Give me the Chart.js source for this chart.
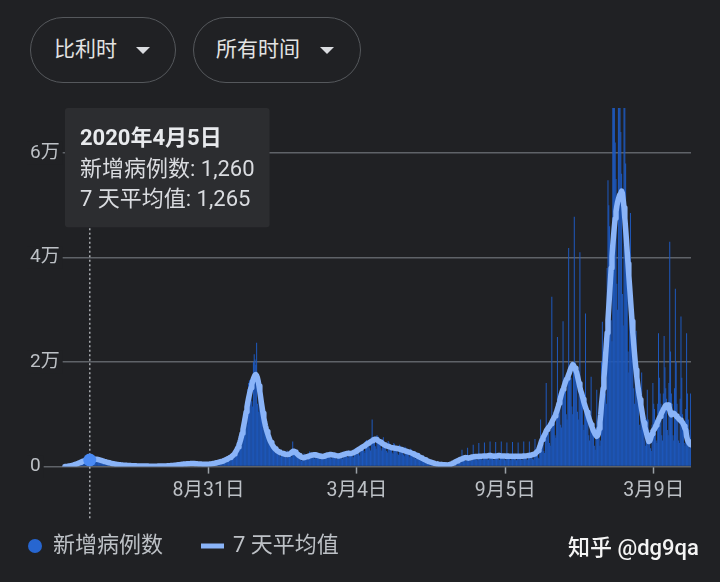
<!DOCTYPE html>
<html>
<head>
<meta charset="utf-8">
<script src="https://cdn.jsdelivr.net/npm/chart.js@4.4.1/dist/chart.umd.min.js"></script>
<style>
  html, body { margin: 0; padding: 0; background: #202124; }
  body { width: 720px; height: 582px; position: relative; overflow: hidden;
         font-family: Roboto, "Noto Sans CJK SC", sans-serif; }
  #wrap { position: absolute; left: 0; top: 0; width: 720px; height: 582px; }
  .chip { position: absolute; top: 17px; height: 66px; box-sizing: border-box;
          border: 1.5px solid #55585c; border-radius: 33px; color: #e3e3e3;
          font-size: 21px; line-height: 63px; white-space: nowrap; }
  .chip .arrow { position: absolute; top: 29px; width: 0; height: 0;
          border-left: 7px solid transparent; border-right: 7px solid transparent;
          border-top: 7px solid #dadce0; }
  #mark { position: absolute; left: 568px; top: 533px; font-size: 22px; font-weight: 500;
          line-height: 30px; color: #f4f4f4; white-space: nowrap; }
</style>
</head>
<body>
<div class="chip" style="left:30px;width:146px;padding-left:23px;">比利时<span class="arrow" style="left:105px;"></span></div>
<div class="chip" style="left:193px;width:168px;padding-left:22px;">所有时间<span class="arrow" style="left:126px;"></span></div>
<div id="wrap"><canvas id="c" width="720" height="582"></canvas></div>
<div id="mark">知乎 @dg9qa</div>
<script>
// Daily series start on this date, one value per day.
const startDate = '2020-03-05';

// 新增病例数 — one row per week (Thu..Wed)
const cases = [
  25, 50, 35, 60, 70, 150, 200,
  260, 330, 320, 340, 450, 480, 560,
  590, 660, 700, 720, 800, 920, 1000,
  1100, 1150, 1050, 1020, 1200, 1350, 1300,
  1320, 1270, 1200, 1260, 1280, 1340, 1380,
  1500, 1560, 1450, 1300, 1380, 1480, 1350,
  1300, 1250, 1100, 1000, 1150, 1100, 950,
  950, 900, 800, 750, 850, 800, 700,
  680, 620, 500, 450, 600, 550, 480,
  460, 430, 360, 320, 420, 380, 330,
  320, 300, 250, 230, 300, 270, 240,
  240, 220, 190, 170, 220, 200, 180,
  170, 160, 130, 120, 160, 150, 130,
  130, 125, 100, 90, 120, 110, 100,
  100, 100, 80, 75, 105, 100, 95,
  90, 90, 75, 70, 95, 90, 85,
  88, 90, 75, 70, 100, 100, 105,
  110, 115, 90, 85, 135, 140, 140,
  150, 155, 120, 110, 190, 200, 210,
  220, 240, 190, 170, 290, 320, 330,
  350, 380, 300, 270, 450, 480, 490,
  500, 520, 420, 380, 560, 600, 590,
  600, 610, 470, 430, 620, 650, 620,
  600, 590, 460, 410, 580, 590, 560,
  530, 520, 400, 360, 500, 520, 490,
  480, 490, 380, 350, 520, 560, 550,
  560, 590, 460, 420, 680, 760, 780,
  800, 840, 650, 600, 950, 1080, 1100,
  1150, 1200, 900, 850, 1450, 1600, 1650,
  1700, 1750, 1350, 1250, 2150, 2400, 2450,
  2600, 2700, 2100, 2000, 3600, 4100, 4300,
  5000, 5300, 4300, 4000, 7600, 9200, 9800,
  10800, 11200, 8600, 8000, 14800, 16000, 16500,
  16500, 16800, 12500, 11500, 20000, 21500, 20500,
  19500, 23700, 12000, 10500, 17000, 15500, 13500,
  12500, 11500, 8000, 7200, 10000, 9000, 7800,
  7000, 6500, 4600, 4200, 5600, 5200, 4600,
  4200, 4000, 2900, 2700, 3900, 3600, 3300,
  3000, 2900, 2100, 1900, 3200, 2900, 2700,
  2500, 2500, 1800, 1700, 3100, 2800, 2600,
  2500, 2700, 2000, 1800, 4800, 3300, 3000,
  2900, 2700, 2000, 1700, 2700, 2500, 2200,
  1800, 1100, 1300, 1400, 2500, 2300, 2200,
  1700, 1300, 1700, 1600, 2900, 2700, 2500,
  2400, 2300, 1700, 1500, 2800, 2600, 2400,
  2200, 2100, 1500, 1400, 2600, 2400, 2200,
  2100, 2100, 1600, 1500, 2700, 2600, 2400,
  2400, 2300, 1700, 1500, 2800, 2700, 2400,
  2300, 2200, 1600, 1400, 2600, 2500, 2300,
  2300, 2300, 1700, 1500, 2900, 2800, 2600,
  2600, 2600, 1900, 1700, 3100, 3000, 2700,
  2700, 2700, 2000, 1800, 3400, 3400, 3100,
  3200, 3200, 2400, 2100, 4000, 4200, 3800,
  4000, 4000, 3000, 2600, 4900, 5100, 4600,
  4800, 4700, 3500, 3100, 5600, 9000, 5200,
  5400, 5300, 3900, 3400, 6000, 5900, 5200,
  5000, 4800, 3500, 3100, 4300, 5600, 4600,
  4300, 4200, 3000, 2700, 4900, 4600, 4000,
  3900, 3800, 2700, 2400, 4500, 4300, 3700,
  3600, 3500, 2500, 2200, 4200, 4000, 3400,
  3300, 3200, 2300, 2000, 3800, 3600, 3100,
  3000, 2900, 2100, 1800, 3400, 3200, 2700,
  2200, 2400, 1700, 1500, 2800, 2600, 2100,
  2000, 1900, 1400, 1200, 1900, 2000, 1600,
  1450, 1350, 1000, 850, 1500, 1300, 1000,
  950, 900, 650, 550, 1000, 850, 650,
  600, 570, 400, 350, 650, 550, 430,
  400, 380, 280, 240, 480, 420, 350,
  340, 350, 260, 230, 520, 580, 600,
  650, 750, 550, 480, 1100, 1250, 1250,
  1250, 1300, 950, 800, 1600, 3200, 1700,
  1500, 1450, 1100, 1000, 1700, 3600, 1700,
  1650, 1600, 1250, 1100, 1800, 4200, 1800,
  1750, 1700, 1350, 1200, 1900, 4500, 1900,
  1800, 1750, 1400, 1250, 1950, 4600, 1950,
  1850, 1750, 1400, 1300, 2000, 4800, 1950,
  1800, 1700, 1350, 1250, 1950, 4700, 1900,
  1800, 1750, 1400, 1250, 2000, 4800, 1950,
  1750, 1700, 1400, 1200, 1950, 4600, 1900,
  1800, 1700, 1350, 1200, 1900, 4700, 1900,
  1750, 1700, 1300, 1200, 1850, 4600, 1850,
  1750, 1700, 1350, 1250, 1900, 4800, 1900,
  1800, 1750, 1400, 1250, 1950, 4800, 2000,
  1900, 1850, 1500, 1350, 2100, 5300, 2200,
  2300, 2500, 1700, 1500, 3200, 9000, 4200,
  4500, 4300, 3000, 2600, 6000, 16000, 7500,
  7000, 6800, 4500, 4000, 8500, 32500, 9500,
  9000, 8800, 6000, 5500, 10500, 24800, 12000,
  12000, 11500, 8000, 7500, 14000, 27800, 15000,
  15000, 14500, 10000, 9000, 17500, 41800, 19000,
  18000, 17000, 11500, 10000, 20000, 47800, 20000,
  17000, 16000, 10500, 9000, 17000, 41000, 16000,
  13500, 12500, 8000, 7000, 13000, 29300, 12000,
  10000, 9500, 6000, 5000, 9000, 17200, 8500,
  7000, 6500, 4000, 3200, 6500, 14700, 7000,
  6000, 5500, 4000, 5000, 20000, 27700, 18000,
  22000, 24000, 14000, 12000, 38000, 54800, 50000,
  46000, 40000, 28000, 24000, 71000, 82000, 72000,
  62000, 55000, 35000, 30000, 76000, 79000, 70000,
  64000, 56000, 33000, 27000, 72000, 74000, 58000,
  48000, 40000, 22000, 18000, 38000, 48500, 35000,
  30000, 26000, 15000, 12000, 22000, 26000, 20000,
  16000, 13000, 8000, 7000, 14000, 18000, 13000,
  10000, 8500, 5000, 4000, 9000, 14700, 9000,
  7000, 6000, 3500, 3000, 8000, 16000, 12000,
  11000, 9000, 5000, 4500, 12000, 25500, 17000,
  14000, 12000, 6000, 5000, 14000, 25000, 19000,
  15000, 13000, 7000, 6000, 16000, 43000, 22000,
  14000, 12000, 6000, 5000, 15000, 34000, 20000,
  12000, 10000, 5000, 4500, 13000, 28700, 17000,
  10000, 9000, 4500, 4000, 11000, 25500, 14000,
  9000, 7000, 3500, 14000
];

// 7 天平均值 — same rows
const avg7 = [
  20, 30, 45, 60, 80, 100, 125,
  150, 190, 230, 270, 310, 360, 420,
  480, 540, 600, 660, 720, 790, 860,
  930, 1000, 1060, 1110, 1150, 1180, 1210,
  1230, 1245, 1255, 1265, 1280, 1300, 1330,
  1370, 1400, 1420, 1430, 1420, 1400, 1370,
  1330, 1280, 1230, 1180, 1130, 1080, 1030,
  980, 940, 900, 860, 820, 780, 740,
  700, 660, 620, 580, 550, 520, 490,
  460, 440, 420, 400, 380, 360, 340,
  320, 300, 290, 280, 270, 260, 250,
  240, 230, 220, 210, 200, 190, 180,
  170, 160, 155, 150, 145, 140, 135,
  130, 125, 120, 115, 110, 105, 100,
  100, 98, 96, 95, 94, 93, 92,
  90, 90, 88, 87, 86, 85, 85,
  85, 86, 88, 90, 92, 95, 98,
  100, 105, 110, 115, 120, 125, 130,
  135, 140, 150, 160, 170, 180, 190,
  200, 215, 230, 245, 260, 280, 300,
  320, 340, 360, 380, 400, 420, 440,
  460, 480, 500, 510, 520, 530, 540,
  550, 560, 570, 575, 580, 580, 575,
  570, 560, 550, 540, 530, 520, 510,
  500, 490, 480, 470, 460, 455, 450,
  450, 450, 455, 460, 470, 480, 495,
  510, 530, 560, 590, 620, 650, 690,
  730, 770, 810, 850, 890, 930, 970,
  1020, 1080, 1140, 1200, 1270, 1340, 1420,
  1500, 1580, 1660, 1750, 1850, 1950, 2060,
  2200, 2400, 2600, 2850, 3100, 3400, 3750,
  4150, 4600, 5100, 5700, 6400, 7100, 7900,
  8700, 9600, 10500, 11400, 12300, 13100, 13800,
  14500, 15100, 15700, 16300, 16800, 17200, 17500,
  17600, 17400, 17000, 16300, 15400, 14400, 13300,
  12200, 11200, 10200, 9300, 8500, 7800, 7200,
  6700, 6200, 5700, 5300, 4900, 4600, 4300,
  4050, 3800, 3600, 3400, 3250, 3100, 3000,
  2900, 2800, 2700, 2650, 2600, 2550, 2500,
  2450, 2400, 2350, 2300, 2300, 2300, 2350,
  2400, 2500, 2650, 2800, 2900, 2950, 2900,
  2800, 2650, 2500, 2350, 2200, 2100, 2000,
  1900, 1800, 1750, 1700, 1700, 1750, 1800,
  1850, 1900, 1950, 2000, 2050, 2100, 2150,
  2200, 2200, 2250, 2250, 2250, 2200, 2200,
  2150, 2100, 2050, 2000, 2000, 1950, 1950,
  1950, 2000, 2050, 2100, 2150, 2200, 2200,
  2250, 2300, 2300, 2300, 2250, 2250, 2200,
  2200, 2150, 2100, 2100, 2050, 2050, 2050,
  2100, 2150, 2200, 2250, 2300, 2350, 2400,
  2450, 2500, 2500, 2550, 2550, 2500, 2500,
  2550, 2600, 2650, 2700, 2750, 2850, 2950,
  3050, 3150, 3250, 3350, 3450, 3550, 3650,
  3750, 3850, 3950, 4050, 4150, 4250, 4350,
  4450, 4550, 4650, 4750, 4850, 4950, 5050,
  5150, 5200, 5250, 5200, 5100, 5000, 4900,
  4800, 4700, 4600, 4500, 4400, 4300, 4200,
  4100, 4000, 3950, 3900, 3850, 3800, 3750,
  3700, 3650, 3600, 3600, 3550, 3550, 3500,
  3500, 3450, 3450, 3400, 3350, 3300, 3250,
  3200, 3150, 3100, 3050, 3000, 2950, 2900,
  2850, 2800, 2750, 2700, 2650, 2600, 2550,
  2450, 2400, 2300, 2250, 2150, 2100, 2000,
  1900, 1850, 1750, 1700, 1600, 1550, 1450,
  1400, 1300, 1250, 1150, 1100, 1000, 950,
  900, 850, 800, 750, 700, 650, 600,
  560, 530, 500, 470, 440, 420, 400,
  380, 370, 360, 350, 340, 330, 320,
  320, 330, 350, 380, 420, 470, 530,
  600, 680, 760, 840, 920, 1000, 1080,
  1150, 1220, 1300, 1380, 1450, 1500, 1550,
  1600, 1650, 1700, 1720, 1700, 1650, 1600,
  1650, 1700, 1750, 1800, 1850, 1850, 1900,
  1900, 1950, 1950, 1950, 1950, 2000, 2000,
  2000, 2000, 2000, 2000, 2050, 2050, 2050,
  2050, 2050, 2050, 2100, 2100, 2100, 2050,
  2050, 2050, 2000, 2000, 2050, 2050, 2050,
  2050, 2100, 2100, 2100, 2050, 2050, 2050,
  2050, 2050, 2050, 2000, 2000, 2050, 2050,
  2000, 2000, 2000, 2000, 2000, 2000, 2000,
  2000, 1950, 1950, 2000, 2000, 2000, 2000,
  2000, 2000, 2000, 2000, 2050, 2050, 2050,
  2050, 2050, 2050, 2100, 2100, 2150, 2150,
  2200, 2250, 2300, 2350, 2400, 2500, 2600,
  2750, 2900, 3100, 3400, 3800, 4300, 4800,
  5200, 5500, 5800, 6100, 6400, 6800, 7100,
  7300, 7500, 7700, 7900, 8200, 8500, 8800,
  9100, 9400, 9700, 10100, 10500, 11000, 11500,
  12100, 12700, 13300, 13900, 14400, 14800, 15200,
  15700, 16200, 16600, 16900, 17200, 17600, 18000,
  18500, 18900, 19200, 19500, 19400, 19100, 18800,
  18400, 18000, 17300, 16600, 15900, 15200, 14500,
  14100, 13500, 12900, 12300, 11800, 11300, 10900,
  10400, 9900, 9400, 8900, 8500, 8000, 7600,
  7200, 6800, 6500, 6200, 6000, 5800, 5900,
  6300, 7300, 8500, 10000, 12000, 13500, 15000,
  17000, 19000, 21200, 23400, 25600, 28000, 30500,
  33000, 35500, 38000, 40200, 42300, 44200, 46000,
  47500, 48800, 49800, 50600, 51200, 51700, 52100,
  52300, 52700, 52300, 51000, 49500, 47500, 45500,
  43400, 41000, 38800, 36500, 34400, 32200, 30000,
  27800, 25500, 23600, 21800, 20000, 18500, 17100,
  15800, 14600, 13600, 12800, 11800, 10900, 9900,
  9000, 8300, 7600, 7000, 6400, 5800, 5200,
  4800, 4900, 5300, 5800, 6300, 6800, 7000,
  7200, 7500, 7900, 8200, 8600, 8900, 9300,
  9600, 9900, 10300, 10600, 10900, 11200, 11500,
  11700, 11800, 11800, 11800, 11600, 10800, 10200,
  9900, 10100, 10200, 10200, 10100, 9900, 9700,
  9500, 9400, 9200, 9000, 8900, 8700, 8600,
  8400, 8100, 7700, 7300, 7000, 5800, 5200,
  4800, 4500, 4300, 4200
];

const tickDates = ['2020-08-31', '2021-03-04', '2021-09-05', '2022-03-09'];
const yTickValues = [0, 20000, 40000, 60000];
const focusDate = '2020-04-05';
const seriesNames = ['新增病例数', '7 天平均值'];

if (cases.length !== avg7.length) {
  throw new Error('series length mismatch: ' + cases.length + ' vs ' + avg7.length);
}

const DAY = 86400000;
const toUTC = (iso) => { const [y, m, d] = iso.split('-').map(Number); return Date.UTC(y, m - 1, d); };
const t0 = toUTC(startDate);
const dayIndex = (iso) => Math.round((toUTC(iso) - t0) / DAY);
const dateOf = (i) => new Date(t0 + i * DAY);
const fmtLong = (i) => { const d = dateOf(i); return d.getUTCFullYear() + '年' + (d.getUTCMonth() + 1) + '月' + d.getUTCDate() + '日'; };
const fmtShort = (i) => { const d = dateOf(i); return (d.getUTCMonth() + 1) + '月' + d.getUTCDate() + '日'; };

const days = cases.map((_, i) => i);
const tickIdx = tickDates.map(dayIndex);
const focusIdx = dayIndex(focusDate);

const BG = '#202124';
const BAR = '#1e59be';
const LINE = '#8ab4f8';
const TEXT = '#bdc1c6';
const FONT = 'Roboto, "Noto Sans CJK SC", sans-serif';

Chart.defaults.font.family = FONT;

Chart.Tooltip.positioners.pinned = function () {
  const a = this.chart.chartArea;
  return { x: a.left + 40, y: a.top };
};

// dotted guide at the highlighted day
const guide = {
  id: 'guide',
  beforeDatasetsDraw(chart) {
    const ctx = chart.ctx;
    const x = chart.scales.x.getPixelForValue(focusIdx);
    const tt = chart.tooltip;
    const top = (tt && tt.height) ? tt.y + tt.height + 1 : 226;
    ctx.save();
    ctx.strokeStyle = '#a8acb0';
    ctx.lineWidth = 1.5;
    ctx.setLineDash([2, 2.5]);
    ctx.beginPath();
    ctx.moveTo(x, top);
    ctx.lineTo(x, 520);
    ctx.stroke();
    ctx.restore();
  }
};

// legend row under the axis
const legendRow = {
  id: 'legendRow',
  afterDraw(chart) {
    const ctx = chart.ctx;
    const ds = chart.data.datasets;
    const y = 546;
    ctx.save();
    ctx.font = '22px ' + FONT;
    ctx.textBaseline = 'middle';
    ctx.fillStyle = ds[0].legendColor;
    ctx.beginPath();
    ctx.arc(35, y, 7, 0, Math.PI * 2);
    ctx.fill();
    ctx.fillStyle = TEXT;
    ctx.fillText(ds[0].label, 53, y);
    ctx.strokeStyle = ds[1].borderColor;
    ctx.lineWidth = 5;
    ctx.beginPath();
    ctx.moveTo(201, y);
    ctx.lineTo(224, y);
    ctx.stroke();
    ctx.fillStyle = TEXT;
    ctx.fillText(ds[1].label, 233, y);
    ctx.restore();
  }
};

const chart = new Chart(document.getElementById('c'), {
  type: 'bar',
  data: {
    labels: days,
    datasets: [
      {
        type: 'bar',
        label: seriesNames[0],
        data: cases,
        backgroundColor: BAR,
        hoverBackgroundColor: BAR,
        legendColor: '#2766d0',
        borderWidth: 0,
        barPercentage: 1.25,
        categoryPercentage: 1,
        order: 1
      },
      {
        type: 'line',
        label: seriesNames[1],
        data: avg7,
        borderColor: LINE,
        borderWidth: 5.5,
        borderJoinStyle: 'round',
        borderCapStyle: 'round',
        tension: 0,
        pointRadius: 0,
        pointHitRadius: 0,
        pointHoverRadius: 6.5,
        pointHoverBorderWidth: 0,
        pointHoverBackgroundColor: '#4a8af4',
        order: 0
      }
    ]
  },
  options: {
    responsive: false,
    animation: false,
    events: [],
    locale: 'en-US',
    layout: { padding: { left: 24, right: 29, top: 108, bottom: 73 } },
    scales: {
      x: {
        type: 'linear',
        min: -46,
        max: 780.5,
        offset: false,
        grid: { offset: false, drawOnChartArea: false, drawTicks: true, tickLength: 7,
                tickColor: '#9aa0a6', tickWidth: 1.5 },
        border: { display: false },
        ticks: { color: TEXT, font: { size: 19.5 }, padding: 6, autoSkip: false, maxRotation: 0,
                 callback: (v) => fmtShort(v) },
        afterBuildTicks: (s) => { s.ticks = tickIdx.map((v) => ({ value: v })); }
      },
      y: {
        min: 0,
        max: 68600,
        border: { display: false },
        grid: { color: '#5f6368', lineWidth: 1.5, drawTicks: false },
        ticks: { mirror: true, padding: 2, color: TEXT, font: { size: 19 },
                 showLabelBackdrop: true, backdropColor: BG,
                 backdropPadding: { top: 0, bottom: 0, left: 3, right: 3 },
                 callback: (v) => (v === 0 ? '0' : (v / 10000) + '万') },
        afterBuildTicks: (s) => { s.ticks = yTickValues.map((v) => ({ value: v })); }
      }
    },
    plugins: {
      legend: { display: false },
      tooltip: {
        enabled: true,
        position: 'pinned',
        xAlign: 'left',
        yAlign: 'top',
        caretSize: 0,
        caretPadding: 0,
        cornerRadius: 3,
        displayColors: false,
        backgroundColor: '#2c2d30',
        titleColor: '#e8eaed',
        bodyColor: '#dadce0',
        titleFont: { size: 22, weight: 'bold' },
        bodyFont: { size: 22 },
        titleMarginBottom: 5,
        bodySpacing: 3,
        padding: { left: 15, right: 15, top: 18, bottom: 14 },
        callbacks: {
          title: (items) => fmtLong(items[0].dataIndex)
        }
      }
    }
  },
  plugins: [guide, legendRow]
});

const active = [
  { datasetIndex: 0, index: focusIdx },
  { datasetIndex: 1, index: focusIdx }
];
chart.setActiveElements(active);
chart.tooltip.setActiveElements(active, { x: 0, y: 0 });
chart.update('none');
</script>
</body>
</html>
